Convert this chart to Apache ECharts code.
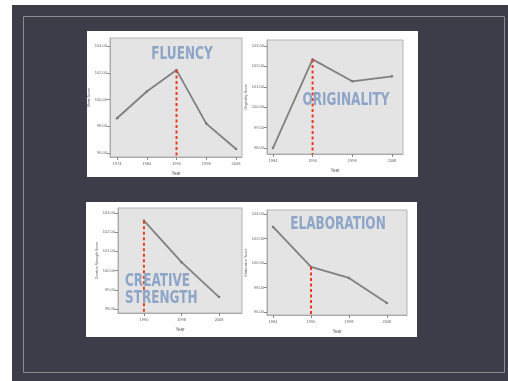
<!DOCTYPE html>
<html><head><meta charset="utf-8">
<script src="https://cdn.jsdelivr.net/npm/echarts@6/dist/echarts.min.js"></script>
<style>html,body{margin:0;padding:0;background:#fff;overflow:hidden}#c{width:508px;height:381px}</style>
</head><body><div id="c"></div>
<script>
// ---- data ----
const fluencyYears = ['1974', '1984', '1990', '1998', '2008'];
const fluencyScores = [98.6, 100.6, 102.2, 98.2, 96.3];
const fluencyTicks = [96, 98, 100, 102, 104];

const originalityYears = ['1984', '1990', '1998', '2008'];
const originalityScores = [98.0, 102.34, 101.27, 101.51];
const originalityTicks = [98, 99, 100, 101, 102, 103];

const strengthYears = ['1990', '1998', '2008'];
const strengthScores = [102.6, 100.44, 98.62];
const strengthTicks = [98, 99, 100, 101, 102, 103];

const elaborationYears = ['1984', '1990', '1998', '2008'];
const elaborationScores = [102.94, 99.68, 98.78, 96.74];
const elaborationTicks = [96, 98, 100, 102, 104];

const panelTitles = ['FLUENCY', 'ORIGINALITY', 'CREATIVE\nSTRENGTH', 'ELABORATION'];
const yNames = ['Mean Score', 'Originality Score', 'Creative Strength Score', 'Elaboration Score'];
const xName = 'Year';
const peakIndex = [2, 1, 0, 1];

// ---- layout / style ----
const panels = [
  {years: fluencyYears, scores: fluencyScores, ticks: fluencyTicks,
   grid: {left: 110, top: 38, width: 132, height: 119}, xMin: -0.235, xMax: 4.2, yMin: 95.7, yMax: 104.6, nameGap: 13},
  {years: originalityYears, scores: originalityScores, ticks: originalityTicks,
   grid: {left: 267, top: 40, width: 136, height: 114}, xMin: -0.15, xMax: 3.28, yMin: 97.71, yMax: 103.29, nameGap: 12},
  {years: strengthYears, scores: strengthScores, ticks: strengthTicks,
   grid: {left: 118, top: 208, width: 124, height: 105}, xMin: -0.69, xMax: 2.61, yMin: 97.79, yMax: 103.26, nameGap: 12},
  {years: elaborationYears, scores: elaborationScores, ticks: elaborationTicks,
   grid: {left: 267, top: 210, width: 140, height: 105}, xMin: -0.16, xMax: 3.53, yMin: 95.76, yMax: 104.32, nameGap: 12}
];

const tiny = {fontSize: 4, color: '#666', fontFamily: 'Liberation Sans'};
const grids = [], xAxes = [], yAxes = [], series = [];
panels.forEach((p, k) => {
  grids.push(Object.assign({show: true, backgroundColor: '#e4e4e4', borderColor: '#b4b4b4', borderWidth: 1}, p.grid));
  const idx = p.years.map((_, i) => i);
  xAxes.push({
    gridIndex: k, type: 'value', min: p.xMin, max: p.xMax,
    name: xName, nameLocation: 'middle', nameGap: 14, nameTextStyle: {fontSize: 4.5, color: '#555'},
    axisLine: {show: true, onZero: false, lineStyle: {color: '#aaa'}},
    axisTick: {show: true, customValues: idx, length: 3, lineStyle: {color: '#888'}},
    axisLabel: {customValues: idx, formatter: v => p.years[Math.round(v)], margin: 5, ...tiny},
    splitLine: {show: false}
  });
  yAxes.push({
    gridIndex: k, type: 'value', min: p.yMin, max: p.yMax,
    name: yNames[k], nameLocation: 'middle', nameRotate: 90, nameGap: p.nameGap,
    nameTextStyle: {fontSize: 3.5, color: '#555'},
    axisLine: {show: true, onZero: false, lineStyle: {color: '#aaa'}},
    axisTick: {show: true, customValues: p.ticks, length: 3, lineStyle: {color: '#888'}},
    axisLabel: {customValues: p.ticks, formatter: v => v.toFixed(2), margin: 3, ...tiny},
    splitLine: {show: false}
  });
  series.push({
    type: 'line', xAxisIndex: k, yAxisIndex: k,
    data: p.scores.map((v, i) => [i, v]),
    symbol: 'circle', symbolSize: 2.5, itemStyle: {color: '#777'},
    lineStyle: {color: '#808080', width: 1.8}, z: 3, animation: false
  });
  const pk = peakIndex[k];
  series.push({
    type: 'line', xAxisIndex: k, yAxisIndex: k,
    data: [[pk, p.scores[pk]], [pk, p.yMin]],
    symbol: 'none', lineStyle: {color: '#ea3b1c', width: 2, type: [3, 2.5]}, z: 4, animation: false
  });
});

const titleFont = "'Liberation Sans Narrow', 'DejaVu Sans Condensed', 'Arial Narrow', sans-serif";
const titleStyle = {fill: '#8ea5c8', fontSize: 17, fontWeight: 'bold', fontFamily: titleFont};
const titlePos = [
  {x: 182, y: 55, align: 'center'},
  {x: 346, y: 101, align: 'center'},
  {x: 125, y: 290, align: 'left'},
  {x: 338, y: 225, align: 'center'}
];

const chart = echarts.init(document.getElementById('c'), null, {renderer: 'canvas'});
chart.setOption({
  animation: false,
  backgroundColor: '#ffffff',
  graphic: [
    {type: 'rect', shape: {x: 12, y: 5, width: 496, height: 376}, style: {fill: '#3b3d48'}, z: -10},
    {type: 'rect', shape: {x: 23.5, y: 16.5, width: 481, height: 356}, style: {fill: null, stroke: '#8a8b8e', lineWidth: 1}, z: -9},
    {type: 'rect', shape: {x: 87, y: 31, width: 331, height: 146}, style: {fill: '#ffffff'}, z: -8},
    {type: 'rect', shape: {x: 86, y: 202, width: 331, height: 135}, style: {fill: '#ffffff'}, z: -8},
    ...panelTitles.map((t, k) => ({
      type: 'text', x: titlePos[k].x, y: titlePos[k].y, z: 10, scaleX: 0.79,
      style: Object.assign({text: t, align: titlePos[k].align, verticalAlign: 'middle', lineHeight: 17}, titleStyle)
    }))
  ],
  grid: grids, xAxis: xAxes, yAxis: yAxes, series: series
});
</script></body></html>
